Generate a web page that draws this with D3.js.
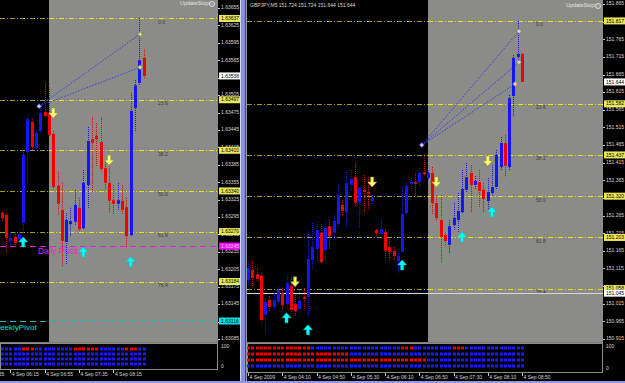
<!DOCTYPE html>
<html>
<head>
<meta charset="utf-8">
<script src="https://cdnjs.cloudflare.com/ajax/libs/d3/7.8.5/d3.min.js"></script>
<style>
  html, body { margin: 0; padding: 0; background: #000; overflow: hidden; }
  svg { display: block; }
  text { font-family: "Liberation Sans", Arial, sans-serif; }
</style>
</head>
<body>
<script>
// ---- left chart (1.63xxx pair, M5, bars 06:05 .. 08:50) ----
var leftOpen  = [1.63302,1.63299,1.63254,1.63261,1.63256,1.63285,1.63407,1.63459,1.63414,1.63443,
                 1.63476,1.63474,1.63438,1.63349,1.63307,1.63252,1.63283,1.63287,1.63311,1.63276,
                 1.63350,1.63429,1.63435,1.63424,1.63379,1.63354,1.63324,1.63318,1.63323,1.63312,
                 1.63264,1.63483,1.63526,1.63569];
var leftHigh  = [1.63304,1.63302,1.63269,1.63269,1.63273,1.63407,1.63467,1.63464,1.63445,1.63486,
                 1.63526,1.63519,1.63443,1.63373,1.63354,1.63302,1.63311,1.63342,1.63328,1.63376,
                 1.63450,1.63467,1.63457,1.63467,1.63393,1.63393,1.63350,1.63354,1.63350,1.63328,
                 1.63509,1.63531,1.63638,1.63584];
var leftLow   = [1.63287,1.63235,1.63245,1.63242,1.63242,1.63268,1.63350,1.63411,1.63407,1.63440,
                 1.63466,1.63433,1.63342,1.63299,1.63209,1.63212,1.63262,1.63281,1.63271,1.63273,
                 1.63311,1.63336,1.63383,1.63373,1.63342,1.63302,1.63299,1.63307,1.63299,1.63243,
                 1.63262,1.63441,1.63522,1.63534];
var leftClose = [1.63293,1.63259,1.63259,1.63250,1.63266,1.63402,1.63464,1.63416,1.63440,1.63474,
                 1.63469,1.63436,1.63347,1.63318,1.63254,1.63290,1.63288,1.63316,1.63274,1.63354,
                 1.63426,1.63423,1.63429,1.63378,1.63354,1.63323,1.63318,1.63324,1.63307,1.63262,
                 1.63478,1.63522,1.63565,1.63538];

var leftPriceTicks = [1.63655,1.63625,1.63595,1.63565,1.63535,1.63505,1.63475,1.63445,1.63415,1.63385,
                      1.63355,1.63325,1.63295,1.63265,1.63235,1.63205,1.63175,1.63145,1.63115,1.63085];
var leftTimeLabels = ["4 Sep 05:35","4 Sep 06:15","4 Sep 06:55","4 Sep 07:35","4 Sep 08:15"];
var leftTimeBars   = [-6, 2, 10, 18, 26];

var leftFibNames  = ["0.0","23.6","38.2","50.0","61.8","76.4"];
var leftFibPrices = [1.63637,1.63497,1.63410,1.63340,1.63270,1.63184];
var leftBid = 1.63538;
var leftDailyPivot = 1.63245;
var leftWeeklyPivot = 1.63116;

var leftArrowBars   = [5, 12, 19, 25, 30];
var leftArrowPrices = [1.63252,1.63474,1.63235,1.63393,1.63218];
var leftArrowUp     = [1, 0, 1, 0, 1];

var leftTrendFrom = [8.7, 1.63486];
var leftTrendTo   = [[32.2, 1.63610], [32.2, 1.63553]];

// indicator rows: bar ranges shown red, the rest blue
var leftSignalRed = [[[5,7],[17,22],[29,31]], [], [], []];

// ---- right chart (GBPJPY, M5, bars 03:30 .. 08:50) ----
var rightOpen  = [151.082,151.111,151.099,151.094,150.983,151.026,151.006,151.020,151.045,151.014,
                  151.065,151.014,151.000,151.034,151.034,151.139,151.170,151.216,151.167,151.235,
                  151.216,151.241,151.295,151.275,151.352,151.374,151.303,151.338,151.332,151.306,
                  151.224,151.213,151.218,151.176,151.165,151.136,151.162,151.272,151.355,151.360,
                  151.360,151.389,151.372,151.386,151.301,151.252,151.210,151.182,151.238,151.252,
                  151.275,151.338,151.386,151.352,151.360,151.338,151.306,151.329,151.346,151.403,
                  151.471,151.403,151.604,151.715,151.724];
var rightHigh  = [151.133,151.136,151.116,151.102,151.031,151.037,151.045,151.062,151.060,151.096,
                  151.091,151.040,151.054,151.060,151.224,151.244,151.247,151.241,151.247,151.252,
                  151.269,151.352,151.309,151.389,151.394,151.414,151.346,151.380,151.374,151.323,
                  151.227,151.255,151.227,151.199,151.176,151.159,151.346,151.357,151.372,151.386,
                  151.400,151.434,151.394,151.403,151.323,151.323,151.218,151.252,151.301,151.329,
                  151.394,151.414,151.408,151.377,151.394,151.357,151.372,151.408,151.451,151.488,
                  151.494,151.607,151.720,151.817,151.724];
var rightLow   = [151.071,151.062,151.077,150.963,150.932,150.992,150.997,151.011,150.997,151.009,
                  150.989,150.980,150.989,150.997,150.980,151.113,151.133,151.128,151.133,151.167,
                  151.196,151.230,151.264,151.233,151.332,151.292,151.230,151.275,151.281,151.298,
                  151.204,151.210,151.145,151.136,151.139,151.099,151.159,151.267,151.343,151.318,
                  151.346,151.377,151.366,151.267,151.252,151.133,151.182,151.159,151.224,151.218,
                  151.269,151.332,151.272,151.338,151.289,151.275,151.281,151.318,151.338,151.394,
                  151.374,151.394,151.545,151.706,151.644];
var rightClose = [151.116,151.088,151.085,150.969,151.020,151.006,151.026,151.054,151.011,151.074,
                  150.997,150.994,151.023,151.028,151.142,151.176,151.224,151.133,151.230,151.207,
                  151.250,151.323,151.278,151.357,151.369,151.301,151.343,151.332,151.326,151.315,
                  151.216,151.227,151.165,151.162,151.150,151.150,151.269,151.349,151.360,151.355,
                  151.386,151.383,151.386,151.301,151.258,151.204,151.193,151.235,151.258,151.278,
                  151.340,151.374,151.352,151.363,151.335,151.312,151.332,151.346,151.437,151.471,
                  151.406,151.598,151.712,151.723,151.644];

var rightPriceTicks = [151.865,151.815,151.765,151.715,151.665,151.615,151.565,151.515,151.465,151.415,
                       151.365,151.315,151.265,151.215,151.165,151.115,151.065,151.015,150.965,150.915];
var rightTimeLabels = ["4 Sep 2009","4 Sep 04:10","4 Sep 04:50","4 Sep 05:30","4 Sep 06:10",
                       "4 Sep 06:50","4 Sep 07:30","4 Sep 08:10","4 Sep 08:50"];
var rightTimeBars   = [0, 8, 16, 24, 32, 40, 48, 56, 64];

var rightFibNames  = ["0.0","23.6","38.2","50.0","61.8","76.4"];
var rightFibPrices = [151.817,151.582,151.437,151.320,151.203,151.058];
var rightBid = 151.644;
var rightHLine = 151.045;

var rightArrowBars   = [9, 11, 14, 29, 36, 44, 50, 56, 57];
var rightArrowPrices = [150.975,151.077,150.941,151.360,151.125,151.360,151.204,151.420,151.275];
var rightArrowUp     = [1, 0, 1, 0, 1, 0, 1, 0, 1];

var rightTrendFrom = [40.6, 151.465];
var rightTrendTo   = [[63.3, 151.788], [63.3, 151.700], [62.4, 151.638]];

var rightSignalRed = [[[0,14],[36,38],[48,50]], [[0,23]], [[0,41]], []];

var symbol = "GBPJPY,M5";

// ---------------------------------------------------------------
var BLUE = "#1414ff", RED = "#f00000";
var boxFill = {fib: "#e8e85a", bid: "#ffffff", daily: "#ff00ff", weekly: "#00e4e4"};

var svg = d3.select("body").append("svg").attr("width", 625).attr("height", 383);
svg.append("rect").attr("width", 625).attr("height", 383).attr("fill", "#000");

function bars(open, high, low, close) {
  return open.map(function(o, i) { return {i: i, o: o, h: high[i], l: low[i], c: close[i]}; });
}

function arrowPath(up) {
  var s = up ? 1 : -1;
  return "M0," + (-5*s) + "L4.5,0L1.5,0L1.5," + (5*s) + "L-1.5," + (5*s) + "L-1.5,0L-4.5,0Z";
}

function drawChart(p) {
  var x = p.x, y = p.y;
  svg.append("clipPath").attr("id", "clip" + p.id).append("rect")
     .attr("x", p.left).attr("y", 0).attr("width", p.right - p.left).attr("height", p.bottom);
  var g = svg.append("g").attr("clip-path", "url(#clip" + p.id + ")");

  g.append("rect").attr("x", p.left).attr("y", 0)
   .attr("width", p.right - p.left).attr("height", p.bottom).attr("fill", "#000");
  g.append("rect").attr("x", p.greyX).attr("y", 0)
   .attr("width", p.right - p.greyX).attr("height", p.bottom).attr("fill", "#8b8b87");

  // fibo levels: dull olive over black, bright yellow over the grey block
  g.selectAll("line.fibA").data(p.fibPrices).enter().append("line")
   .attr("x1", p.left).attr("x2", p.greyX)
   .attr("y1", function(d){ return Math.round(y(d)) + 0.5; })
   .attr("y2", function(d){ return Math.round(y(d)) + 0.5; })
   .attr("stroke", "#9c9c20").attr("stroke-dasharray", "5,2,1,2");
  g.selectAll("line.fibB").data(p.fibPrices).enter().append("line")
   .attr("x1", p.greyX).attr("x2", p.right)
   .attr("y1", function(d){ return Math.round(y(d)) + 0.5; })
   .attr("y2", function(d){ return Math.round(y(d)) + 0.5; })
   .attr("stroke", "#e6e600").attr("stroke-dasharray", "5,2,1,2");
  g.selectAll("text.fib").data(p.fibPrices).enter().append("text")
   .attr("x", p.fibLabelX).attr("y", function(d){ return y(d) + 4; })
   .attr("dominant-baseline", "middle").attr("font-size", 5).attr("fill", "#3a3a3a")
   .text(function(d, i){ return p.fibNames[i]; });

  if (p.extra) p.extra(g);

  // trend lines of the fibo tool
  p.trendTo.forEach(function(t) {
    g.append("line")
     .attr("x1", x(p.trendFrom[0])).attr("y1", y(p.trendFrom[1]))
     .attr("x2", x(t[0])).attr("y2", y(t[1]))
     .attr("stroke", "#3c3cf0").attr("stroke-dasharray", "1.5,1.5");
  });

  var data = bars(p.open, p.high, p.low, p.close);
  g.selectAll("line.wick").data(data).enter().append("line")
   .attr("x1", function(d){ return Math.round(x(d.i)) + 0.5; })
   .attr("x2", function(d){ return Math.round(x(d.i)) + 0.5; })
   .attr("y1", function(d){ return y(d.h); })
   .attr("y2", function(d){ return y(d.l); })
   .attr("stroke", function(d){ return d.c >= d.o ? BLUE : RED; })
   .attr("stroke-dasharray", "1,1");
  g.selectAll("rect.body").data(data).enter().append("rect")
   .attr("x", function(d){ return Math.round(x(d.i)) - 1; })
   .attr("width", 3)
   .attr("y", function(d){ return y(Math.max(d.o, d.c)); })
   .attr("height", function(d){ return Math.max(1, Math.abs(y(d.o) - y(d.c))); })
   .attr("fill", function(d){ return d.c >= d.o ? BLUE : RED; });

  // end points of the trend lines
  [p.trendFrom].concat(p.trendTo).forEach(function(t, i) {
    g.append("path")
     .attr("d", "M0,-2.5L2.5,0L0,2.5L-2.5,0Z")
     .attr("transform", "translate(" + x(t[0]) + "," + y(t[1]) + ")")
     .attr("fill", i === 0 ? "#c8c8ff" : "#d8d8b0")
     .attr("stroke", i === 0 ? "#3030e0" : "#707050").attr("stroke-width", 0.6);
  });

  // signal arrows
  g.selectAll("path.arrow").data(p.arrowBars).enter().append("path")
   .attr("d", function(d, i){ return arrowPath(p.arrowUp[i]); })
   .attr("transform", function(d, i){ return "translate(" + x(d) + "," + y(p.arrowPrices[i]) + ")"; })
   .attr("fill", function(d, i){ return p.arrowUp[i] ? "#00ffff" : "#ffff70"; })
   .attr("stroke", function(d, i){ return p.arrowUp[i] ? "#00c0c0" : "#a89830"; })
   .attr("stroke-width", 0.5);

  // UpdateStops button
  g.append("text").attr("x", p.stopsX).attr("y", p.stopsY)
   .attr("dominant-baseline", "middle").attr("font-size", 5.4).attr("fill", "#e4e4e4")
   .text("UpdateStops");
  g.append("circle").attr("cx", p.stopsX + 32).attr("cy", p.stopsY).attr("r", 2.6)
   .attr("fill", "#9a9a9a").attr("stroke", "#e4e4e4").attr("stroke-width", 0.8);

  svg.append("line").attr("x1", p.left).attr("x2", p.right)
     .attr("y1", p.bottom + 0.5).attr("y2", p.bottom + 0.5).attr("stroke", "#7a7a7a");

  // price axis; a tick label sitting right under a marker box is hidden by it
  var boxes = p.fibPrices.map(function(v){ return {v: v, k: "fib"}; }).concat(p.marks);
  var shown = p.ticks.filter(function(t) {
    return !boxes.some(function(b){ return Math.abs(y(b.v) - y(t)) < 2.5; });
  });
  svg.append("rect").attr("x", p.right).attr("y", 0).attr("width", 22).attr("height", p.indBottom)
     .attr("fill", "#000");
  svg.selectAll("line.pt" + p.id).data(p.ticks).enter().append("line")
     .attr("x1", p.right).attr("x2", p.right + 2)
     .attr("y1", function(d){ return Math.round(y(d)) + 0.5; })
     .attr("y2", function(d){ return Math.round(y(d)) + 0.5; })
     .attr("stroke", "#c8c8c8");
  svg.selectAll("text.pt" + p.id).data(shown).enter().append("text")
     .attr("x", p.right + 3).attr("y", function(d){ return y(d); })
     .attr("dominant-baseline", "middle").attr("font-size", 5).attr("fill", "#d8d8d8")
     .text(function(d){ return p.fmt(d); });

  var bg = svg.selectAll("g.box" + p.id).data(boxes).enter().append("g")
     .attr("transform", function(d){ return "translate(" + (p.right + 1) + "," + y(d.v) + ")"; });
  bg.append("rect").attr("x", 0).attr("y", -3.5).attr("width", 21).attr("height", 7)
    .attr("fill", function(d){ return boxFill[d.k]; });
  bg.append("text").attr("x", 2).attr("y", 0.3)
    .attr("dominant-baseline", "middle").attr("font-size", 5)
    .attr("fill", function(d){ return d.k === "daily" ? "#ffd8ff" : "#000"; })
    .text(function(d){ return p.fmt(d.v); });

  // indicator window
  svg.append("rect").attr("x", p.left + 0.5).attr("y", p.indTop + 0.5)
     .attr("width", p.right - p.left - 1).attr("height", p.indBottom - p.indTop - 1)
     .attr("fill", "#000").attr("stroke", "#8c8c8c");
  p.signalRed.forEach(function(ranges, r) {
    svg.selectAll("rect.sig" + p.id + r).data(data).enter().append("rect")
       .attr("x", function(d){ return Math.round(x(d.i)) - 1; })
       .attr("y", p.rows[r] - 1.5).attr("width", 3).attr("height", 3)
       .attr("fill", function(d){
         var red = ranges.some(function(rg){ return d.i >= rg[0] && d.i <= rg[1]; });
         return red ? "#e80000" : "#1a1aff";
       });
  });
  svg.append("text").attr("x", p.right + 3).attr("y", p.ind100Y)
     .attr("dominant-baseline", "middle").attr("font-size", 5).attr("fill", "#d8d8d8").text("100");
  svg.append("text").attr("x", p.right + 3).attr("y", p.ind0Y)
     .attr("dominant-baseline", "middle").attr("font-size", 5).attr("fill", "#d8d8d8").text("0");

  // time axis
  var tg = svg.append("g").attr("clip-path", "url(#clipT" + p.id + ")");
  svg.append("clipPath").attr("id", "clipT" + p.id).append("rect")
     .attr("x", p.left).attr("y", p.indBottom).attr("width", p.right - p.left + 22).attr("height", 12);
  tg.selectAll("line").data(p.timeBars).enter().append("line")
    .attr("x1", function(d){ return Math.round(x(d)) + 0.5; })
    .attr("x2", function(d){ return Math.round(x(d)) + 0.5; })
    .attr("y1", p.indBottom).attr("y2", p.indBottom + 3).attr("stroke", "#c8c8c8");
  tg.selectAll("text").data(p.timeBars).enter().append("text")
    .attr("x", function(d){ return x(d) + 1.5; }).attr("y", p.timeY)
    .attr("dominant-baseline", "middle").attr("font-size", 5).attr("fill", "#d4d4d4")
    .text(function(d, i){ return p.timeLabels[i]; });
}

var yL = d3.scaleLinear().domain([1.63085, 1.63655]).range([339, 8]);
drawChart({
  id: "L", left: 0, right: 218, greyX: 49, bottom: 342,
  x: d3.scaleLinear().domain([0, 33]).range([1.7, 143.5]), y: yL, fmt: d3.format(".5f"),
  open: leftOpen, high: leftHigh, low: leftLow, close: leftClose,
  ticks: leftPriceTicks, timeLabels: leftTimeLabels, timeBars: leftTimeBars,
  fibNames: leftFibNames, fibPrices: leftFibPrices, fibLabelX: 158,
  marks: [{v: leftBid, k: "bid"}, {v: leftDailyPivot, k: "daily"}, {v: leftWeeklyPivot, k: "weekly"}],
  arrowBars: leftArrowBars, arrowPrices: leftArrowPrices, arrowUp: leftArrowUp,
  trendFrom: leftTrendFrom, trendTo: leftTrendTo, signalRed: leftSignalRed,
  indTop: 343, indBottom: 370, rows: [349, 354, 359, 364], ind100Y: 347, ind0Y: 367, timeY: 375,
  stopsX: 180, stopsY: 4,
  extra: function(g) {
    // pivot lines
    g.append("line").attr("x1", 0).attr("x2", 218)
     .attr("y1", Math.round(yL(leftDailyPivot)) + 0.5).attr("y2", Math.round(yL(leftDailyPivot)) + 0.5)
     .attr("stroke", "#e020e0").attr("stroke-dasharray", "6,4");
    g.append("text").attr("x", 38).attr("y", yL(leftDailyPivot) + 8)
     .attr("font-size", 8.3).attr("fill", "#e020e0").text("Daily Pivot");
    g.append("line").attr("x1", 0).attr("x2", 218)
     .attr("y1", Math.round(yL(leftWeeklyPivot)) + 0.5).attr("y2", Math.round(yL(leftWeeklyPivot)) + 0.5)
     .attr("stroke", "#20b8b8").attr("stroke-dasharray", "6,4");
    g.append("text").attr("x", -7.6).attr("y", yL(leftWeeklyPivot) + 9)
     .attr("font-size", 8.1).attr("fill", "#00dede").text("WeeklyPivot");
  }
});

var yR = d3.scaleLinear().domain([150.915, 151.865]).range([339, 4]);
var last = rightOpen.length - 1;
drawChart({
  id: "R", left: 247, right: 603, greyX: 428, bottom: 342,
  x: d3.scaleLinear().domain([0, 64]).range([248, 522]), y: yR, fmt: d3.format(".3f"),
  open: rightOpen, high: rightHigh, low: rightLow, close: rightClose,
  ticks: rightPriceTicks, timeLabels: rightTimeLabels, timeBars: rightTimeBars,
  fibNames: rightFibNames, fibPrices: rightFibPrices, fibLabelX: 536,
  marks: [{v: rightBid, k: "bid"}, {v: rightHLine, k: "bid"}],
  arrowBars: rightArrowBars, arrowPrices: rightArrowPrices, arrowUp: rightArrowUp,
  trendFrom: rightTrendFrom, trendTo: rightTrendTo, signalRed: rightSignalRed,
  indTop: 343, indBottom: 373, rows: [348, 354, 360, 366], ind100Y: 347, ind0Y: 369, timeY: 378,
  stopsX: 566, stopsY: 6,
  extra: function(g) {
    g.append("line").attr("x1", 247).attr("x2", 603)
     .attr("y1", Math.round(yR(rightHLine)) + 0.5).attr("y2", Math.round(yR(rightHLine)) + 0.5)
     .attr("stroke", "#d8d8d8");
    var f = d3.format(".3f");
    g.append("text").attr("x", 250).attr("y", 6)
     .attr("dominant-baseline", "middle").attr("font-size", 5).attr("fill", "#d8d8d8")
     .text(symbol + "  " + [rightOpen[last], rightHigh[last], rightLow[last], rightClose[last]].map(f).join(" "));
  }
});

// window frame between and under the two charts
svg.append("rect").attr("x", 240).attr("y", 0).attr("width", 7).attr("height", 383).attr("fill", "#8890dc");
svg.append("line").attr("x1", 240.5).attr("x2", 240.5).attr("y1", 0).attr("y2", 383).attr("stroke", "#d0d6fa");
svg.append("line").attr("x1", 245.5).attr("x2", 245.5).attr("y1", 0).attr("y2", 383).attr("stroke", "#3a4290");
svg.append("line").attr("x1", 246.5).attr("x2", 246.5).attr("y1", 0).attr("y2", 381).attr("stroke", "#9a9a9a");
svg.append("rect").attr("x", 0).attr("y", 381).attr("width", 625).attr("height", 2).attr("fill", "#9098e0");
</script>
</body>
</html>
